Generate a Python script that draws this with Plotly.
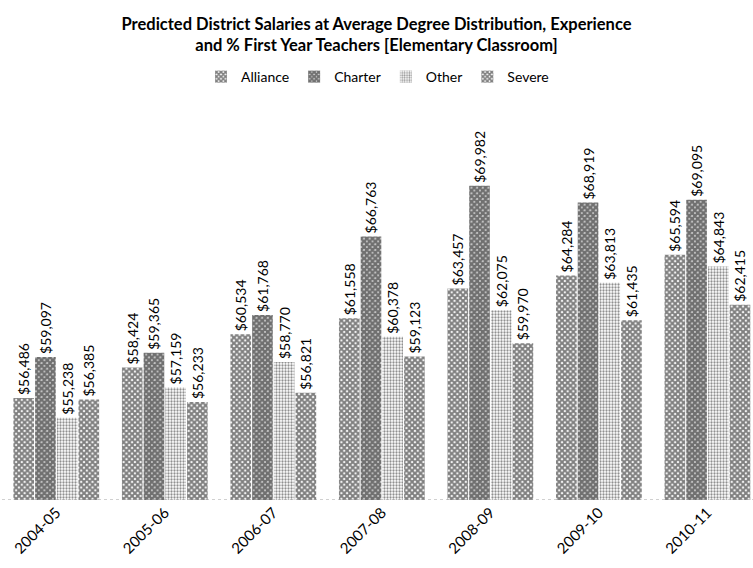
import plotly.graph_objects as go

years = ["2004-05", "2005-06", "2006-07", "2007-08", "2008-09", "2009-10", "2010-11"]
alliance = [56486, 58424, 60534, 61558, 63457, 64284, 65594]
charter = [59097, 59365, 61768, 66763, 69982, 68919, 69095]
other = [55238, 57159, 58770, 60378, 62075, 63813, 64843]
severe = [56385, 56233, 56821, 59123, 59970, 61435, 62415]

series = [
    ("Alliance", alliance, dict(shape="x", fgcolor="#000000", bgcolor="#ffffff", size=4, solidity=0.75)),
    ("Charter", charter, dict(shape="x", fgcolor="#000000", bgcolor="#e0e0e0", size=4, solidity=0.85)),
    ("Other", other, dict(shape=".", fgcolor="#222222", bgcolor="#ffffff", size=3, solidity=0.45)),
    ("Severe", severe, dict(shape="x", fgcolor="#000000", bgcolor="#ffffff", size=4, solidity=0.75)),
]

FONT = "Lato"
fig = go.Figure()
for name, vals, pat in series:
    fig.add_trace(go.Bar(
        name=name, x=years, y=vals,
        text=[f"${v:,}" for v in vals],
        textposition="outside", textangle=-90, constraintext="none",
        textfont=dict(family=FONT, size=14, color="#000000"),
        marker=dict(color="#ffffff", line=dict(width=0), pattern=pat),
        cliponaxis=False,
    ))

fig.update_layout(
    width=753, height=568,
    margin=dict(l=2, r=0, t=100, b=68),
    paper_bgcolor="#ffffff", plot_bgcolor="#ffffff",
    barmode="group", bargap=0.2, bargroupgap=0.05,
    font=dict(family=FONT, size=14, color="#000000"),
    title=dict(
        text="<b>Predicted District Salaries at Average Degree Distribution, Experience<br>and % First Year Teachers [Elementary Classroom]</b>",
        x=0.5, xanchor="center", yref="container", y=0.948, yanchor="middle",
        font=dict(family=FONT, size=16.5, color="#000000"),
    ),
    legend=dict(orientation="h", x=0.5, xanchor="center", y=1.0575, yanchor="middle",
                font=dict(family=FONT, size=14), itemwidth=30, traceorder="normal"),
    showlegend=True,
)
fig.update_xaxes(type="category", range=[-0.5, 6.42], tickangle=-45, showline=False,
                 showgrid=False, ticks="", tickfont=dict(family=FONT, size=15))
fig.update_yaxes(range=[50000, 75440], visible=False, showgrid=False)
fig.add_shape(type="line", xref="paper", yref="y", x0=0, x1=1, y0=50000, y1=50000,
              line=dict(color="#a0a0a0", width=1, dash="dot"))

fig.write_html("out.html")
